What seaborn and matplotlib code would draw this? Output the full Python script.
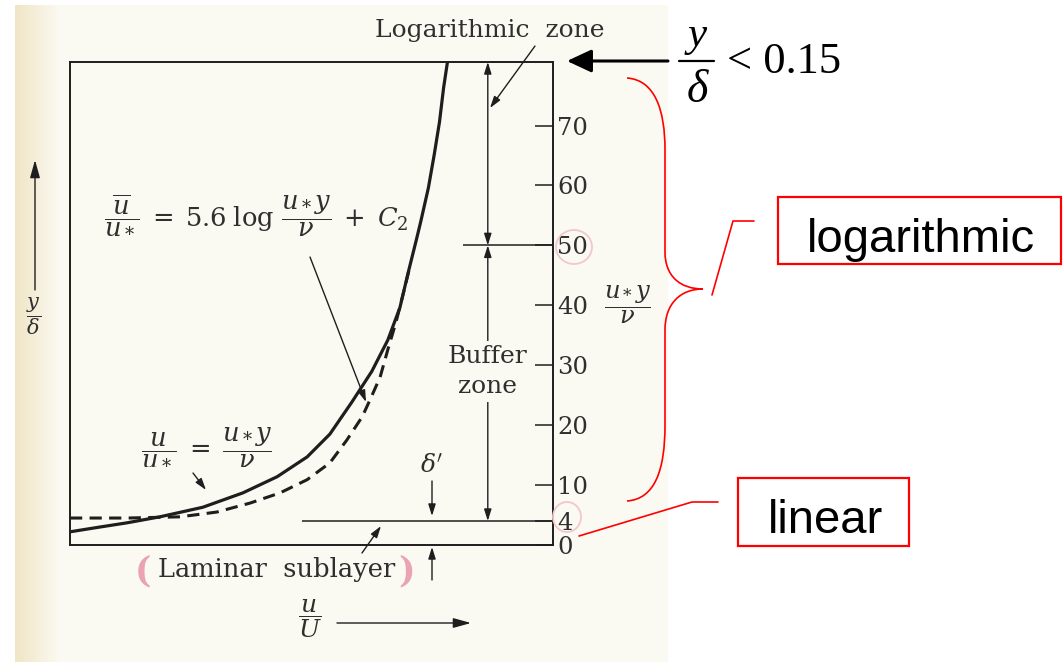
import matplotlib
matplotlib.use("Agg")
import numpy as np
import matplotlib.pyplot as plt
import seaborn as sns
from matplotlib.patches import Rectangle, PathPatch, Ellipse
from matplotlib.path import Path

# Velocity profile near a smooth wall: u/U against u*y/nu
u_profile = [0.0, 0.062, 0.118, 0.186, 0.275, 0.358, 0.429, 0.491, 0.538,
             0.584, 0.625, 0.658, 0.683, 0.700, 0.717, 0.726, 0.742, 0.754,
             0.765, 0.7735, 0.7815]
yplus_profile = [2.2, 3.0, 3.7, 4.7, 6.3, 8.7, 11.4, 14.7, 18.5,
                 23.9, 29.0, 34.2, 39.6, 45.4, 50.9, 53.9, 59.6, 65.1,
                 70.6, 76.3, 80.6]

# Logarithmic law carried down toward the wall (dashed)
u_loglaw = [0.0, 0.118, 0.228, 0.304, 0.373, 0.435, 0.491, 0.538, 0.573,
            0.605, 0.621, 0.642, 0.658, 0.675, 0.692, 0.702]
yplus_loglaw = [4.5, 4.5, 4.7, 5.5, 7.0, 8.7, 10.9, 13.7, 17.5,
                21.4, 24.2, 28.0, 32.6, 37.2, 42.6, 45.9]

yplus_ticks = [0, 4, 10, 20, 30, 40, 50, 60, 70]
sublayer_edge = 4
buffer_top = 50
yplus_max = 80.6

INK = "#1e1e1e"
TXT = "#2f2f2f"
PAGE = "#fbfaf2"
RED = "#ff0000"

sns.set_style("white")
plt.rcParams["font.family"] = ["DejaVu Serif"]
plt.rcParams["mathtext.fontset"] = "dejavuserif"

W, H = 1063, 662
fig = plt.figure(figsize=(W / 100, H / 100), dpi=100)
fig.patch.set_facecolor("white")

# page tint behind the figure
bg = fig.add_axes([0, 0, 1, 1], zorder=0)
bg.set_xlim(0, W)
bg.set_ylim(H, 0)
bg.axis("off")
img = np.ones((H, W, 3))
cream = np.array([251, 250, 242]) / 255.0
edge = np.array([240, 229, 198]) / 255.0
img[5:, 15:668] = cream
for x in range(15, 60):
    t = (x - 15) / 45.0
    img[5:, x] = edge * (1 - t) + cream * t
bg.imshow(img, extent=(0, W, H, 0), aspect="auto", interpolation="bilinear")

# main chart
ax = fig.add_axes([70 / W, (H - 545) / H, 483 / W, 483 / H], zorder=2)
ax.set_facecolor("none")
sns.lineplot(x=u_profile, y=yplus_profile, ax=ax, color=INK, lw=2.3,
             sort=False, estimator=None)
sns.lineplot(x=u_loglaw, y=yplus_loglaw, ax=ax, color=INK, lw=2.2,
             sort=False, estimator=None)
ax.lines[-1].set_dashes([4.0, 2.4])
for ln in ax.lines:
    ln.set_solid_joinstyle("round")
ax.set_xlim(0, 1)
ax.set_ylim(0, yplus_max)
ax.set_xlabel("")
ax.set_ylabel("")
ax.set_xticks([])
ax.yaxis.tick_right()
ax.set_yticks(yplus_ticks)
ax.tick_params(axis="y", direction="in", length=13, width=1.1, color=INK,
               labelsize=17.5, labelcolor=TXT, pad=3, right=True, left=False)
for s in ax.spines.values():
    s.set_visible(True)
    s.set_color(INK)
    s.set_linewidth(1.4)

ax.hlines(sublayer_edge, 0.48, 1.0, color=INK, lw=1.1)
ax.hlines(buffer_top, 0.814, 1.0, color=INK, lw=1.1)
dbl = dict(arrowstyle="<|-|>,head_length=0.7,head_width=0.22", mutation_scale=10,
           lw=1.0, color=INK, shrinkA=0, shrinkB=0)
ax.annotate("", xy=(0.865, yplus_max), xytext=(0.865, buffer_top), arrowprops=dbl)
ax.annotate("", xy=(0.865, buffer_top), xytext=(0.865, sublayer_edge), arrowprops=dbl)
ax.text(0.865, 29.0, "Buffer\nzone", ha="center", va="center", fontsize=18,
        color=TXT, linespacing=1.4, zorder=6,
        bbox=dict(boxstyle="square,pad=0.15", fc=PAGE, ec="none"))

# annotation layer in pixel units
ov = fig.add_axes([0, 0, 1, 1], zorder=3)
ov.set_facecolor("none")
ov.set_xlim(0, W)
ov.set_ylim(H, 0)
ov.axis("off")


def arrow(x0, y0, x1, y1, ms=10, hl=0.7, hw=0.22, lw=1.0, color=INK):
    ov.annotate("", xy=(x1, y1), xytext=(x0, y0),
                arrowprops=dict(arrowstyle=f"-|>,head_length={hl},head_width={hw}",
                                mutation_scale=ms, lw=lw, color=color,
                                shrinkA=0, shrinkB=0))


ov.text(490, 30, "Logarithmic  zone", ha="center", va="center", fontsize=18, color=TXT)
arrow(535, 46, 490, 108)

ov.text(256, 214, r"$\dfrac{\overline{u}}{u_*}\;=\;5.6\;\log\,\dfrac{u_*y}{\nu}\;+\;C_2$",
        ha="center", va="center", fontsize=18.5, color=TXT)
arrow(310, 257, 366, 402)

ov.text(207, 446, r"$\dfrac{u}{u_*}\;=\;\dfrac{u_*y}{\nu}$",
        ha="center", va="center", fontsize=18.5, color=TXT)
arrow(193, 473, 206, 490)

ov.text(432, 466, r"$\delta'$", ha="center", va="center", fontsize=18, color=TXT)
arrow(432, 481, 432, 516)
arrow(432, 580, 432, 547)

ov.text(277, 570, "Laminar  sublayer", ha="center", va="center", fontsize=18.5, color=TXT)
arrow(362, 553, 381, 526)
ov.text(143, 571, "(", ha="center", va="center", fontsize=25, fontweight="bold", color="#eaa3b0")
ov.text(406, 571, ")", ha="center", va="center", fontsize=25, fontweight="bold", color="#eaa3b0")

ov.text(310, 619, r"$\dfrac{u}{U}$", ha="center", va="center", fontsize=18, color=TXT)
arrow(337, 623, 471, 623, ms=12, hl=0.9, hw=0.25)

ov.text(34, 316, r"$\dfrac{y}{\delta}$", ha="center", va="center", fontsize=15, color=TXT)
arrow(35, 290, 35, 160, ms=12, hl=0.9, hw=0.25)

ov.text(628, 305, r"$\dfrac{u_*y}{\nu}$", ha="center", va="center", fontsize=17.5, color=TXT)

ov.add_patch(Ellipse((574, 247), 36, 34, fill=False, ec="#f2c6cd", lw=1.3))
ov.add_patch(Ellipse((567, 517), 28, 30, fill=False, ec="#f2c6cd", lw=1.3))

# slide overlay: y/delta bound and zone tags
arrow(668, 61, 567, 61, ms=20, hl=0.75, hw=0.35, lw=2.2, color="black")
ov.text(697, 36, "y", ha="center", va="center", fontsize=31, style="italic",
        family="Liberation Serif", color="black")
ov.plot([679, 714], [61, 61], color="black", lw=1.6)
ov.text(697, 91, "δ", ha="center", va="center", fontsize=33, style="italic",
        family="Liberation Serif", color="black")
ov.text(727, 73, "< 0.15", ha="left", va="baseline", fontsize=32,
        family="Liberation Serif", color="black")

brace = Path(
    [(627, 78), (655, 80), (665, 110), (665, 150),
     (665, 252),
     (665, 276), (680, 289), (703, 289),
     (680, 289), (665, 304), (665, 330),
     (665, 425),
     (665, 470), (655, 499), (627, 501)],
    [Path.MOVETO, Path.CURVE4, Path.CURVE4, Path.CURVE4,
     Path.LINETO,
     Path.CURVE4, Path.CURVE4, Path.CURVE4,
     Path.CURVE4, Path.CURVE4, Path.CURVE4,
     Path.LINETO,
     Path.CURVE4, Path.CURVE4, Path.CURVE4])
ov.add_patch(PathPatch(brace, fill=False, ec=RED, lw=1.2))

ov.plot([712, 733, 754], [295, 221, 221], color=RED, lw=1.2)
ov.plot([579, 692, 718], [536, 502, 502], color=RED, lw=1.2)

ov.add_patch(Rectangle((778, 197), 283, 67, fill=False, ec=RED, lw=1.6))
ov.text(807, 252, "logarithmic", ha="left", va="baseline", fontsize=34,
        family="Liberation Sans", color="black")
ov.add_patch(Rectangle((738, 478), 171, 68, fill=False, ec=RED, lw=1.6))
ov.text(768, 533, "linear", ha="left", va="baseline", fontsize=34,
        family="Liberation Sans", color="black")

fig.savefig("out.png", dpi=100)
